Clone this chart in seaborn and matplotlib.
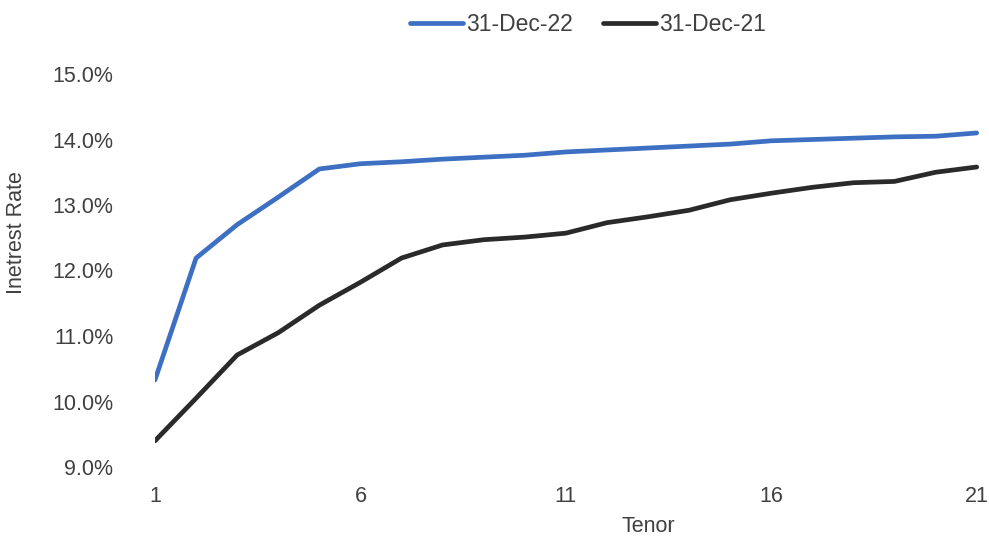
import matplotlib
matplotlib.use("Agg")
import matplotlib.pyplot as plt
from matplotlib.ticker import FuncFormatter
import pandas as pd
import seaborn as sns

# Yield curve: interest rate (%) by tenor (years)
tenor = list(range(1, 22))
rate_dec22 = [10.33, 12.19, 12.70, 13.12, 13.55, 13.63, 13.66, 13.70, 13.73, 13.76,
              13.81, 13.84, 13.87, 13.90, 13.93, 13.98, 14.00, 14.02, 14.04, 14.05, 14.10]
rate_dec21 = [9.40, 10.05, 10.71, 11.05, 11.47, 11.82, 12.19, 12.39, 12.47, 12.51,
              12.57, 12.73, 12.82, 12.92, 13.08, 13.18, 13.27, 13.34, 13.36, 13.50, 13.58]
series_names = ["31-Dec-22", "31-Dec-21"]
y_ticks = [9, 10, 11, 12, 13, 14, 15]
x_ticks = [1, 6, 11, 16, 21]

df = pd.DataFrame({
    "Tenor": tenor * 2,
    "Rate": rate_dec22 + rate_dec21,
    "Series": [series_names[0]] * len(tenor) + [series_names[1]] * len(tenor),
})

sns.set_style("white")
plt.rcParams["font.family"] = ["Liberation Sans", "DejaVu Sans"]
text_color = "#404040"

fig = plt.figure(figsize=(9.89, 5.40), dpi=100)
ax = fig.add_axes([155 / 989, 73 / 540, 834 / 989, 393 / 540])

sns.lineplot(data=df, x="Tenor", y="Rate", hue="Series",
             palette={series_names[0]: "#3d6fc2", series_names[1]: "#2a2a2a"},
             linewidth=3.4, ax=ax, legend=True)

ax.set_xlim(1, 21.3)
ax.set_ylim(9, 15)
ax.set_xticks(x_ticks)
ax.set_yticks(y_ticks)
ax.yaxis.set_major_formatter(FuncFormatter(lambda v, _: f"{v:.1f}%"))
ax.tick_params(axis="y", length=0, pad=30, labelsize=15.5, labelcolor=text_color)
ax.tick_params(axis="x", length=0, pad=14, labelsize=15.5, labelcolor=text_color)
for s in ax.spines.values():
    s.set_visible(False)
ax.grid(False)
ax.set_xlabel("")
ax.set_ylabel("")

fig.text(648 / 989, 1 - 527 / 540, "Tenor", ha="center", va="center",
         fontsize=15.5, color=text_color)
fig.text(17 / 989, 1 - 233 / 540, "Inetrest Rate", ha="center", va="center",
         rotation=90, fontsize=15.5, color=text_color)

handles, labels = ax.get_legend_handles_labels()
ax.legend(handles, labels, loc="center", bbox_to_anchor=(588 / 989, 1 - 25 / 540),
          bbox_transform=fig.transFigure, ncol=2, frameon=False,
          handlelength=2.3, handletextpad=0.15, columnspacing=1.3,
          fontsize=16.5, labelcolor=text_color)

fig.savefig("out.png", dpi=100)
